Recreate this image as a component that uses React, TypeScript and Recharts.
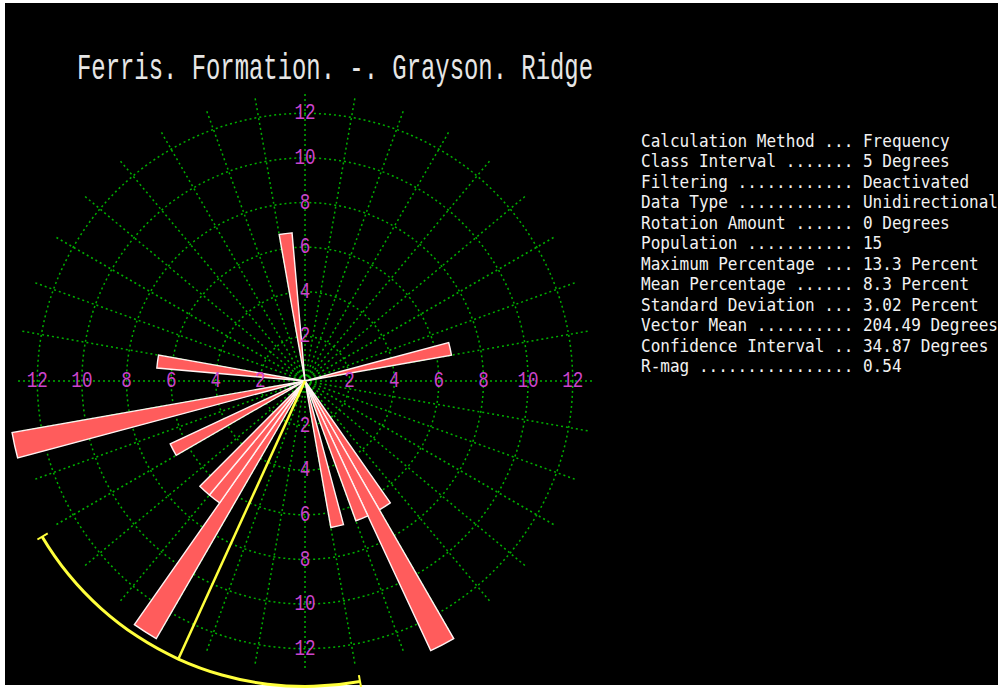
import React from 'react';
import { RadialBarChart, RadialBar, PolarAngleAxis, PolarRadiusAxis, PolarGrid } from 'recharts';

// 5 degree classes (azimuth of class start) that hold readings, and their counts
const classStarts = [75, 145, 150, 155, 165, 210, 215, 220, 240, 255, 275, 350];
const classCounts = [1, 1, 2, 1, 1, 2, 1, 1, 1, 2, 1, 1];
const population = 15;
const classInterval = 5;

const vectorMean = 204.49;
const confidenceInterval = 34.87;

const radiusTicks = [2, 4, 6, 8, 10, 12];
const gridAzimuths = [
  0, 10, 20, 30, 40, 50, 60, 70, 80, 90, 100, 110, 120, 130, 140, 150, 160, 170,
  180, 190, 200, 210, 220, 230, 240, 250, 260, 270, 280, 290, 300, 310, 320, 330, 340, 350,
];

const title = 'Ferris. Formation. -. Grayson. Ridge';
const statsLines = [
  'Calculation Method ... Frequency',
  'Class Interval ....... 5 Degrees',
  'Filtering ............ Deactivated',
  'Data Type ............ Unidirectional',
  'Rotation Amount ...... 0 Degrees',
  'Population ........... 15',
  'Maximum Percentage ... 13.3 Percent',
  'Mean Percentage ...... 8.3 Percent',
  'Standard Deviation ... 3.02 Percent',
  'Vector Mean .......... 204.49 Degrees',
  'Confidence Interval .. 34.87 Degrees',
  'R-mag ................ 0.54',
];

// full set of classes round the circle, percent of population in each
const roseRows = Array.from({ length: 360 / classInterval }, (_, i) => {
  const start = i * classInterval;
  const k = classStarts.indexOf(start);
  return { bin: String(start), pct: k >= 0 ? (classCounts[k] / population) * 100 : 0 };
});

const ciRows = [{ name: 'ci', span: [vectorMean - confidenceInterval, vectorMean + confidenceInterval] }];
const markerRows = [{ name: 'marker', zero: 0 }];

// compass azimuth (clockwise from north) -> recharts polar angle
const toPolar = (az: number) => 90 - az;

const W = 998;
const H = 691;
const CX = 305;
const CY = 381;
const YELLOW = '#ffff3c';
const MAGENTA = '#cc44cc';
const noMargin = { top: 0, right: 0, bottom: 0, left: 0 };
const layer: React.CSSProperties = { position: 'absolute', left: 0, top: 0 };

const label = (x: number, y: number, v: number, key: string) => (
  <g key={key} transform={`translate(${x},${y}) scale(0.8,1)`}>
    <text
      x={0}
      y={0}
      textAnchor="middle"
      dominantBaseline="central"
      fill={MAGENTA}
      fontSize={22}
      fontFamily="Liberation Mono, monospace"
    >
      {v}
    </text>
  </g>
);

// the tick sits on the east axis; the same ring value is repeated on the other three
const RingTick = (props: any) => {
  const { x, payload } = props;
  const r = x - CX;
  return (
    <g>
      {label(CX + r, CY, payload.value, 'e')}
      {label(CX, CY - r, payload.value, 'n')}
      {label(CX - r, CY, payload.value, 'w')}
      {label(CX, CY + r, payload.value, 's')}
    </g>
  );
};

export default function App() {
  return (
    <div style={{ position: 'relative', width: W, height: H, overflow: 'hidden', background: '#fff' }}>
      <style>{'body{margin:0;overflow:hidden}'}</style>
      <div style={{ position: 'absolute', left: 5, top: 3, width: W - 5, height: 682, background: '#000' }} />

      <RadialBarChart
        width={W}
        height={H}
        cx={CX}
        cy={CY}
        innerRadius={0}
        outerRadius={290}
        startAngle={85}
        endAngle={-275}
        layout="centric"
        barCategoryGap={0}
        data={roseRows}
        margin={noMargin}
        style={layer}
      >
        <PolarGrid
          gridType="circle"
          polarAngles={gridAzimuths.map(toPolar)}
          stroke="#00b000"
          strokeWidth={1.5}
          strokeDasharray="2 3"
        />
        <PolarAngleAxis type="category" dataKey="bin" tick={false} axisLine={false} />
        <PolarRadiusAxis
          angle={0}
          type="number"
          domain={[0, 13]}
          allowDataOverflow
          ticks={radiusTicks}
          tick={RingTick}
          axisLine={false}
        />
        <RadialBar dataKey="pct" fill="#ff5c5c" stroke="#fff2f2" strokeWidth={1.4} isAnimationActive={false} />
      </RadialBarChart>

      {/* vector mean */}
      <RadialBarChart
        width={W}
        height={H}
        cx={CX}
        cy={CY}
        innerRadius={0}
        outerRadius={305}
        startAngle={90}
        endAngle={-270}
        layout="centric"
        data={markerRows}
        margin={noMargin}
        style={layer}
      >
        <PolarAngleAxis type="category" dataKey="name" tick={false} axisLine={false} />
        <PolarRadiusAxis
          angle={toPolar(vectorMean)}
          type="number"
          domain={[0, 1]}
          allowDataOverflow
          ticks={[0, 1]}
          tick={false}
          axisLine={{ stroke: YELLOW, strokeWidth: 2.5 }}
        />
        <RadialBar dataKey="zero" fill="none" isAnimationActive={false} />
      </RadialBarChart>

      {/* end marks of the confidence interval */}
      <RadialBarChart
        width={W}
        height={H}
        cx={CX}
        cy={CY}
        innerRadius={299}
        outerRadius={311}
        startAngle={90}
        endAngle={-270}
        layout="centric"
        data={markerRows}
        margin={noMargin}
        style={layer}
      >
        <PolarAngleAxis type="category" dataKey="name" tick={false} axisLine={false} />
        <PolarRadiusAxis
          radiusAxisId="lo"
          angle={toPolar(vectorMean - confidenceInterval)}
          type="number"
          domain={[0, 1]}
          allowDataOverflow
          ticks={[0, 1]}
          tick={false}
          axisLine={{ stroke: YELLOW, strokeWidth: 2 }}
        />
        <PolarRadiusAxis
          radiusAxisId="hi"
          angle={toPolar(vectorMean + confidenceInterval)}
          type="number"
          domain={[0, 1]}
          allowDataOverflow
          ticks={[0, 1]}
          tick={false}
          axisLine={{ stroke: YELLOW, strokeWidth: 2 }}
        />
        <RadialBar radiusAxisId="lo" dataKey="zero" fill="none" isAnimationActive={false} />
        <RadialBar radiusAxisId="hi" dataKey="zero" fill="none" isAnimationActive={false} />
      </RadialBarChart>

      {/* confidence arc */}
      <RadialBarChart
        width={W}
        height={H}
        cx={CX}
        cy={CY}
        innerRadius={299}
        outerRadius={311}
        startAngle={90}
        endAngle={-270}
        barSize={3}
        data={ciRows}
        margin={noMargin}
        style={layer}
      >
        <PolarAngleAxis type="number" domain={[0, 360]} tick={false} axisLine={false} />
        <PolarRadiusAxis type="category" dataKey="name" tick={false} axisLine={false} />
        <RadialBar dataKey="span" fill={YELLOW} isAnimationActive={false} />
      </RadialBarChart>

      <svg width={W} height={H} style={layer}>
        <g transform="translate(77,79) scale(0.646,1)">
          <text x={0} y={0} fill="#e6e6e6" fontSize={37} fontFamily="Liberation Mono, monospace">
            {title}
          </text>
        </g>
        {statsLines.map((line, i) => (
          <g key={line} transform={`translate(641,${147 + i * 20.45}) scale(0.922,1)`}>
            <text x={0} y={0} fill="#f2f2f2" fontSize={17.4} fontFamily="DejaVu Sans Mono, monospace" style={{ whiteSpace: 'pre' }}>
              {line}
            </text>
          </g>
        ))}
      </svg>
    </div>
  );
}
